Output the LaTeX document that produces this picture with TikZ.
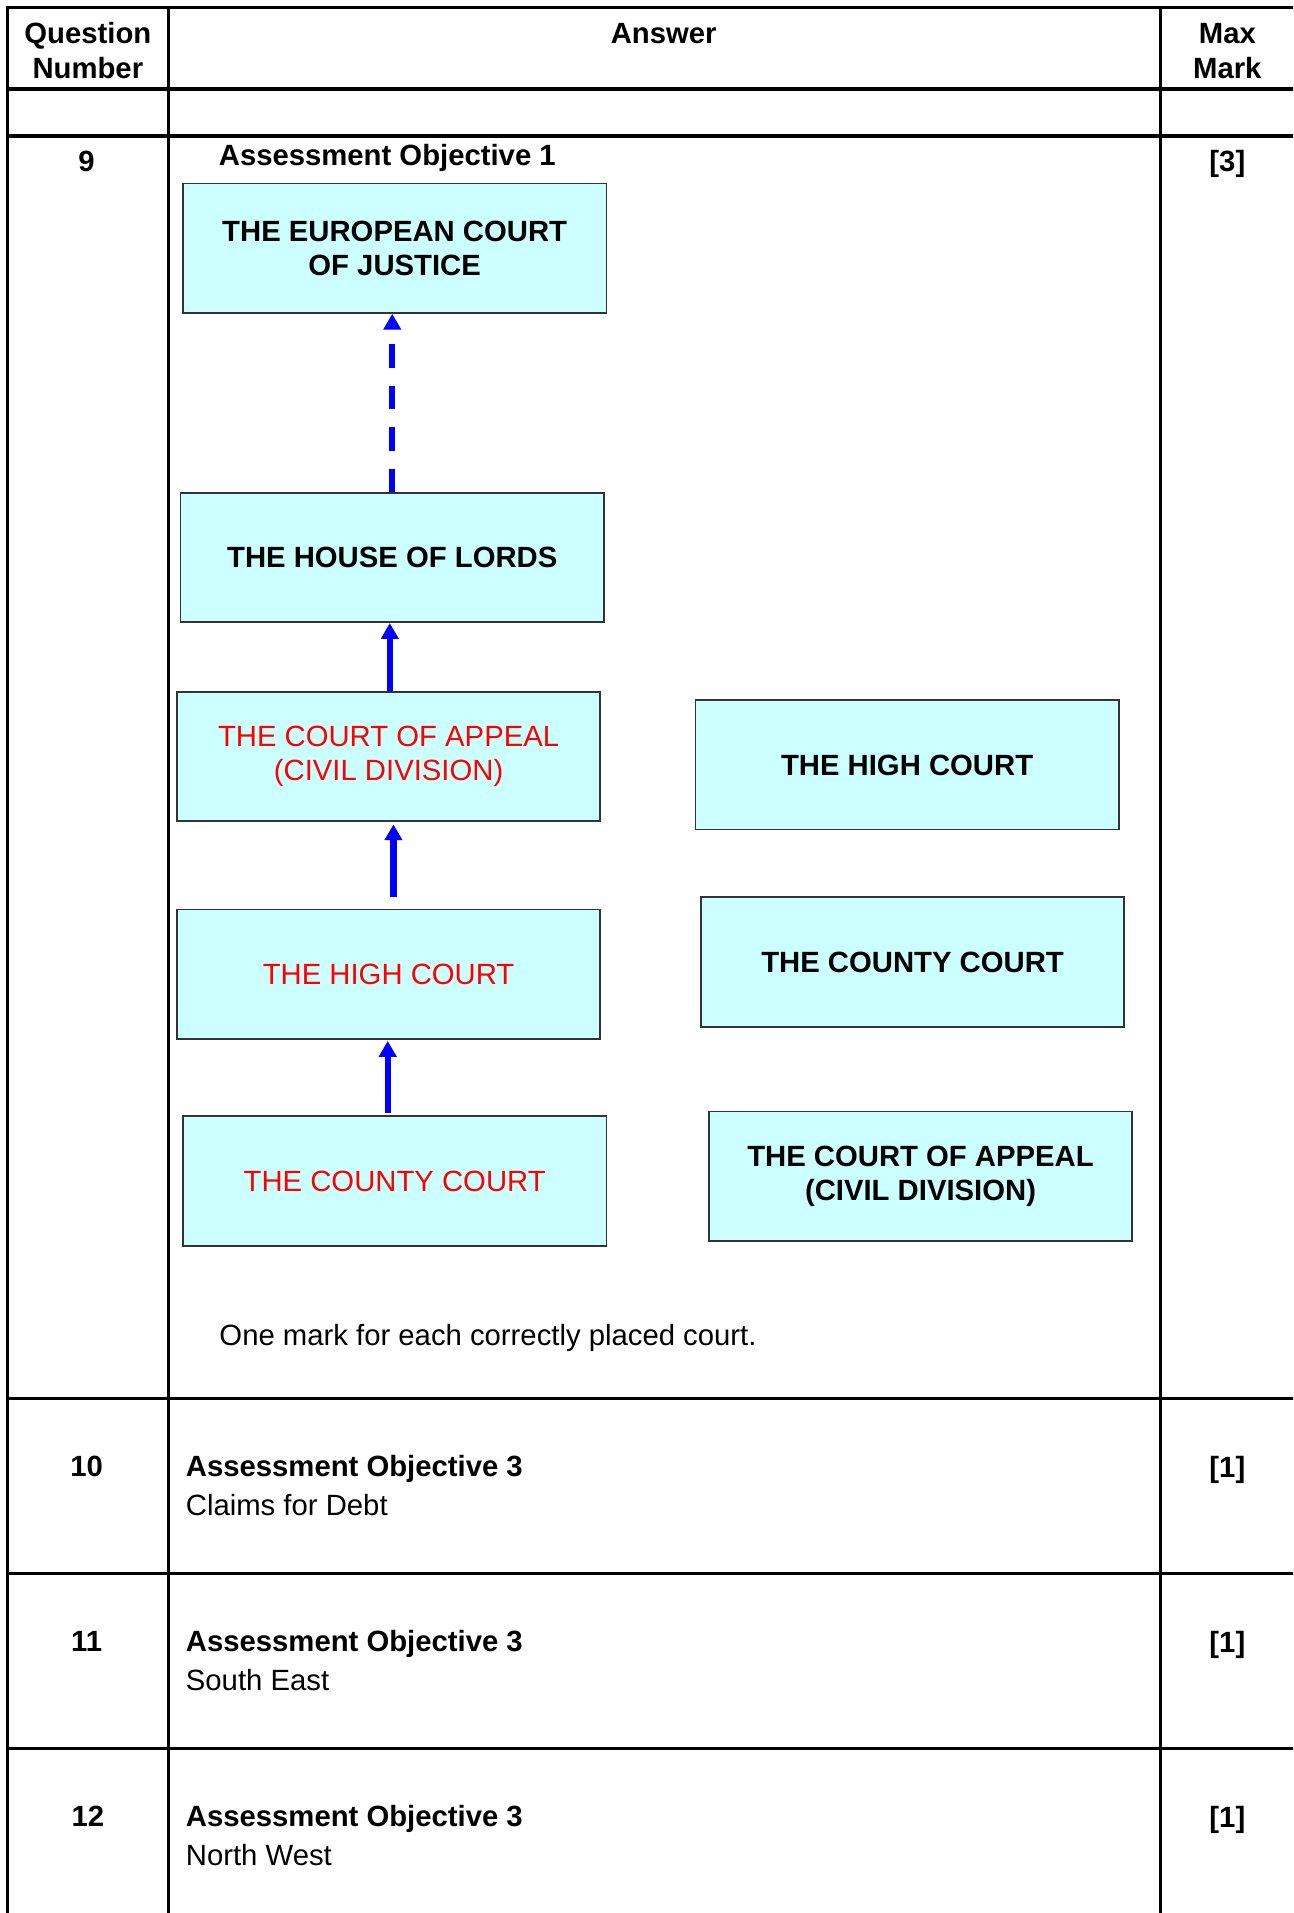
\documentclass[tikz,border=0pt]{standalone}
\usepackage{fontspec}
\setmainfont{Liberation Sans}
\usetikzlibrary{arrows.meta,calc}
\definecolor{boxfill}{RGB}{204,255,255}
\definecolor{myblue}{RGB}{0,0,255}
\definecolor{myred}{RGB}{255,0,0}
\begin{document}
\begin{tikzpicture}[x=0.5pt,y=-0.5pt,
  court/.style={draw=black!80, line width=0.7pt, fill=boxfill, minimum width=173.5pt, minimum height=53pt, align=center, inner sep=0pt, font=\fontsize{12}{14}\selectfont},
  blk/.style={court, font=\fontsize{12}{14}\selectfont\bfseries},
  rd/.style={court, text=myred},
  tabline/.style={line width=1.3pt, black},
  arr/.style={myblue, line width=2.5pt, -{Triangle[length=6.5pt,width=7pt]}},
  lbl/.style={inner sep=0pt, font=\fontsize{12}{14}\selectfont},
  blbl/.style={inner sep=0pt, font=\fontsize{12}{14}\selectfont\bfseries},
]
\useasboundingbox (0,0) rectangle (1060,1568);
\fill[white] (0,0) rectangle (1060,1568);

% table rules
\begin{scope}
\clip (0,0) rectangle (1060,1568);
\draw[tabline] (1075,6) -- (6,6) -- (6,1580);
\draw[tabline] (138,6) -- (138,1580);
\draw[tabline] (951,6) -- (951,1580);
\foreach \yy in {73,111.5,1146,1290,1433} {
  \draw[tabline] (6,\yy) -- (1075,\yy);
}
\end{scope}

% header
\node[blbl, anchor=base] (qh1) at (72,35.5) {Question};
\node[blbl, anchor=base] (qh2) at (72,64) {Number};
\node[blbl, anchor=base] (ah) at (544,35.5) {Answer};
\node[blbl, anchor=base] (mh1) at (1006,35.5) {Max};
\node[blbl, anchor=base] (mh2) at (1006,64) {Mark};

% question 9
\node[blbl, anchor=base] (q9) at (71,140.5) {9};
\node[blbl, anchor=base west] (ao1) at (179,135.5) {Assessment Objective 1};
\node[blbl, anchor=base] (m9) at (1006,140.5) {[3]};

\node[blk] (ecj) at (323.5,203.5) {THE EUROPEAN COURT\\OF JUSTICE};
\node[blk] (hl) at (321.5,457) {THE HOUSE OF LORDS};
\node[rd] (coa) at (318.5,620) {THE COURT OF APPEAL\\(CIVIL DIVISION)};
\node[rd] (hc) at (318.5,798.5) {THE HIGH COURT};
\node[rd] (cc) at (323.5,968) {THE COUNTY COURT};
\node[blk] (hc2) at (743.5,627) {THE HIGH COURT};
\node[blk] (cc2) at (748,788.5) {THE COUNTY COURT};
\node[blk] (coa2) at (754.5,964) {THE COURT OF APPEAL\\(CIVIL DIVISION)};

\draw[arr, dash pattern=on 9.5pt off 7.5pt] (hl.north) -- (hl.north |- ecj.south);
\draw[arr] ($(coa.north)+(1,0)$) -- ($(coa.north |- hl.south)+(1,0)$);
\draw[arr, shorten <=4.85pt, shorten >=1pt] ($(hc.north)+(4,0)$) -- ($(hc.north |- coa.south)+(4,0)$);
\draw[arr, shorten <=1pt, shorten >=0.5pt] ($(hc.south |- cc.north)+(-0.7,0)$) -- ($(hc.south)+(-0.7,0)$);

\node[lbl, anchor=base west] (note) at (179.5,1103) {One mark for each correctly placed court.};

% question 10
\node[blbl, anchor=base] (q10) at (71,1210) {10};
\node[blbl, anchor=base west] (ao10) at (152,1210) {Assessment Objective 3};
\node[lbl, anchor=base west] (a10) at (152,1242) {Claims for Debt};
\node[blbl, anchor=base] (m10) at (1006,1211) {[1]};

% question 11
\node[blbl, anchor=base] (q11) at (71,1353.5) {11};
\node[blbl, anchor=base west] (ao11) at (152,1353.5) {Assessment Objective 3};
\node[lbl, anchor=base west] (a11) at (152,1385.5) {South East};
\node[blbl, anchor=base] (m11) at (1006,1354.5) {[1]};

% question 12
\node[blbl, anchor=base] (q12) at (72,1497) {12};
\node[blbl, anchor=base west] (ao12) at (152,1497) {Assessment Objective 3};
\node[lbl, anchor=base west] (a12) at (152,1529) {North West};
\node[blbl, anchor=base] (m12) at (1006,1498) {[1]};
\end{tikzpicture}
\end{document}
